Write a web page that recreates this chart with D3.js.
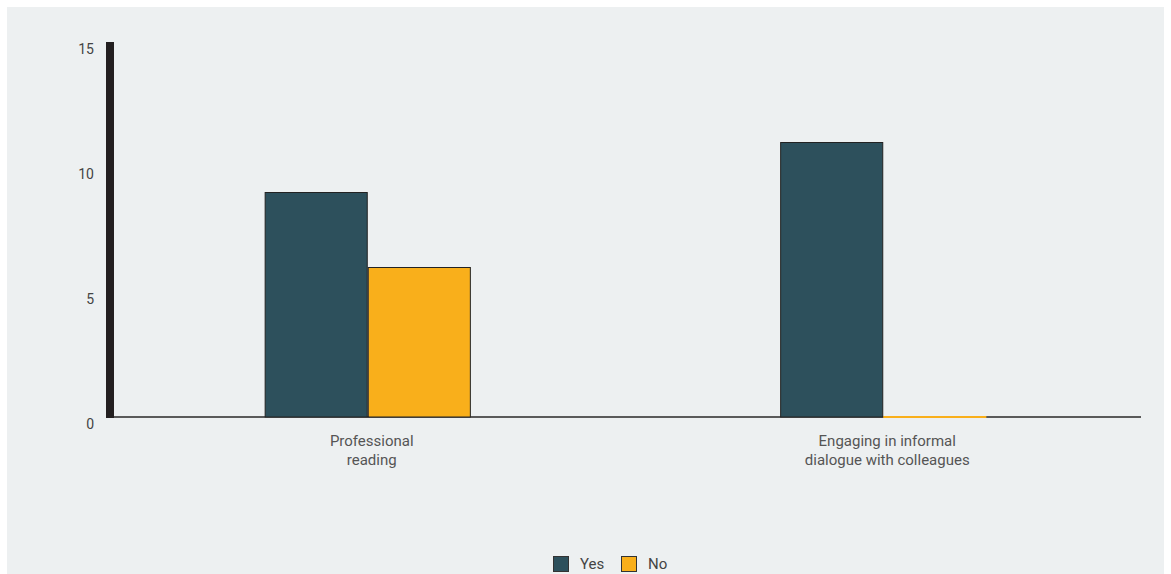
<!DOCTYPE html>
<html>
<head>
<meta charset="utf-8">
<script src="https://cdn.jsdelivr.net/npm/d3@7"></script>
<style>
  html, body { margin: 0; padding: 0; background: #ffffff; }
  svg { display: block; }
  text { font-family: Roboto, "Noto Sans", sans-serif; }
</style>
</head>
<body>
<svg id="chart" width="1171" height="574"></svg>
<script>
// Activities and the count of "Yes" / "No" answers for each
const categories = [["Professional", "reading"], ["Engaging in informal", "dialogue with colleagues"]];
const categoryKeys = ["Professional reading", "Engaging in informal dialogue with colleagues"];
const seriesNames = ["Yes", "No"];
const yesValues = [9, 11];
const noValues = [6, 0];
const yTicks = [0, 5, 10, 15];
const seriesColors = ["#2d505c", "#f9af1b"];

const svg = d3.select("#chart");
const W = 1171, H = 574;

// panel background
svg.append("rect").attr("x", 7).attr("y", 7).attr("width", 1157).attr("height", H - 7)
  .attr("fill", "#edf0f1");

const plotLeft = 110, plotRight = 1141, plotTop = 42, plotBottom = 417;

const x0 = d3.scaleBand().domain(categoryKeys).range([plotLeft, plotRight]).paddingInner(0).paddingOuter(0);
const groupW = x0.bandwidth() * 0.4;
const x1 = d3.scaleBand().domain(seriesNames).range([0, groupW]).padding(0);
const y = d3.scaleLinear().domain([0, 15]).range([plotBottom, plotTop]);

const data = categoryKeys.map((k, i) => ({
  key: k,
  values: [{ s: "Yes", v: yesValues[i] }, { s: "No", v: noValues[i] }]
}));

// baseline
svg.append("line").attr("x1", plotLeft).attr("x2", plotRight).attr("y1", y(0)).attr("y2", y(0))
  .attr("stroke", "#5a5a5a").attr("stroke-width", 2);

// bars
const groups = svg.selectAll("g.grp").data(data).enter().append("g")
  .attr("class", "grp")
  .attr("transform", d => `translate(${x0(d.key) + (x0.bandwidth() - groupW) / 2},0)`);

groups.selectAll("rect").data(d => d.values.filter(e => e.v > 0)).enter().append("rect")
  .attr("x", d => x1(d.s) + 0.5)
  .attr("y", d => y(d.v) + 0.5)
  .attr("width", x1.bandwidth() - 1)
  .attr("height", d => y(0) - y(d.v) - 0.5)
  .attr("fill", d => seriesColors[seriesNames.indexOf(d.s)])
  .attr("stroke", "#222222").attr("stroke-width", 1);

// zero-valued bars show as a coloured line on the baseline
groups.selectAll("line.zero").data(d => d.values.filter(e => e.v === 0)).enter().append("line")
  .attr("class", "zero")
  .attr("x1", d => x1(d.s)).attr("x2", d => x1(d.s) + x1.bandwidth())
  .attr("y1", y(0)).attr("y2", y(0))
  .attr("stroke", d => seriesColors[seriesNames.indexOf(d.s)]).attr("stroke-width", 2);

// y axis: heavy bar plus tick labels
svg.append("rect").attr("x", 106).attr("y", y(15)).attr("width", 8).attr("height", y(0) - y(15) + 1)
  .attr("fill", "#231f20");
const yAxis = d3.axisLeft(y).tickValues(yTicks).tickSize(0).tickPadding(0);
const ya = svg.append("g").attr("transform", "translate(94,7)").call(yAxis);
ya.select(".domain").remove();
ya.selectAll("text").attr("font-size", 14).attr("fill", "#444").attr("font-family", "Roboto, sans-serif");

// category labels
const xl = svg.append("g");
data.forEach((d, i) => {
  const cx = x0(d.key) + x0.bandwidth() / 2 + 4;
  const t = xl.append("text").attr("x", cx).attr("y", 446)
    .attr("text-anchor", "middle").attr("font-size", 15).attr("fill", "#555");
  categories[i].forEach((line, j) => {
    t.append("tspan").attr("x", cx).attr("dy", j === 0 ? 0 : 19).text(line);
  });
});

// legend
const legend = svg.append("g").attr("transform", "translate(553,556)");
const legendX = [0, 68];
seriesNames.forEach((s, i) => {
  const g = legend.append("g").attr("transform", `translate(${legendX[i]},0)`);
  g.append("rect").attr("x", 0.5).attr("y", 0.5).attr("width", 15).attr("height", 15)
    .attr("fill", seriesColors[i]).attr("stroke", "#333").attr("stroke-width", 1);
  g.append("text").attr("x", 27).attr("y", 13).attr("font-size", 15).attr("fill", "#444").text(s);
});
</script>
</body>
</html>
